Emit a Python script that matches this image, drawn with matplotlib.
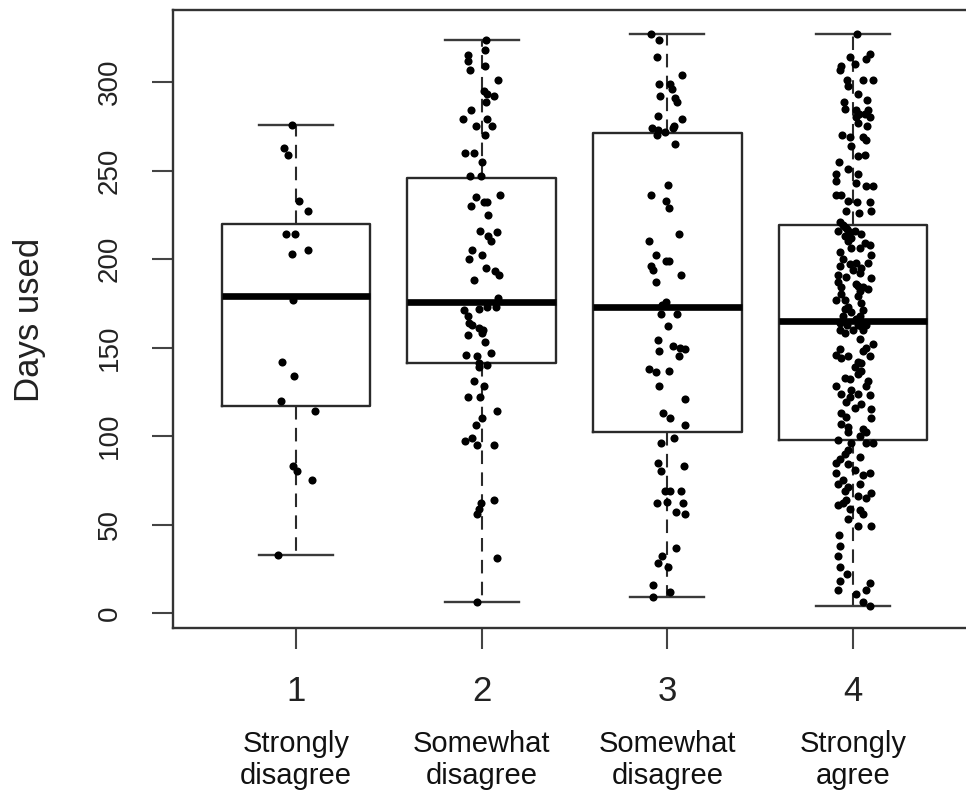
import numpy as np
import matplotlib
matplotlib.use("Agg")
import matplotlib.pyplot as plt
from matplotlib.transforms import blended_transform_factory

plt.rcParams["font.family"] = ["Liberation Sans", "DejaVu Sans"]

# ---- data ----
positions = [1, 2, 3, 4]
tick_labels = ["1", "2", "3", "4"]
category_labels = ["Strongly\ndisagree", "Somewhat\ndisagree", "Somewhat\ndisagree", "Strongly\nagree"]

# box summary per group: lower whisker, Q1, median, Q3, upper whisker
whis_lo = [33, 6, 9, 4]
q1 = [117, 141, 102, 98]
median = [179, 176, 173, 165]
q3 = [220, 246, 271, 219]
whis_hi = [276, 324, 327, 327]

# jittered points: value (days used) and horizontal jitter (category units)
g1_days = [276, 263, 259, 233, 227, 214, 214, 205, 203, 177, 142, 134, 120, 114, 83, 80, 75, 33]
g1_jitter = [-0.023, -0.063, -0.041, 0.015, 0.066, -0.054, -0.005, 0.063, -0.022, -0.016,
             -0.075, -0.011, -0.079, 0.102, -0.016, 0.004, 0.088, -0.099]

g2_days = [324, 318, 315, 312, 307, 309, 301, 295, 293, 292, 289, 284, 279, 279, 275, 275, 270,
           260, 260, 255, 247, 247, 236, 235, 232, 232, 230, 225, 216, 215, 213, 210, 205, 202,
           200, 195, 193, 191, 188, 178, 173, 173, 172, 171, 168, 164, 163, 161, 160, 157, 158,
           153, 146, 145, 147, 141, 140, 139, 131, 128, 122, 122, 114, 110, 106, 99, 97, 95, 95,
           64, 62, 59, 56, 31, 6]
g2_jitter = [0.024, 0.020, -0.074, -0.071, -0.062, 0.019, 0.090, 0.010, 0.031, 0.064, 0.024,
             -0.058, -0.101, 0.031, -0.031, 0.055, 0.019, -0.089, -0.044, 0.003, -0.062, -0.003,
             0.100, -0.031, 0.010, 0.031, -0.057, 0.033, -0.008, 0.082, 0.033, 0.051, -0.050,
             0.001, -0.066, 0.024, 0.073, 0.094, -0.039, 0.090, 0.028, 0.076, -0.017, -0.093,
             -0.076, -0.066, -0.053, -0.017, 0.006, -0.071, 0.001, 0.019, -0.085, -0.023, 0.051,
             -0.013, 0.028, -0.013, -0.044, 0.010, -0.071, -0.008, 0.082, 0.001, -0.031, -0.050,
             -0.089, -0.023, 0.067, 0.069, -0.003, -0.017, -0.026, 0.085, -0.023]

g3_days = [327, 324, 314, 304, 299, 299, 296, 292, 291, 289, 281, 279, 275, 274, 273, 272, 270,
           274, 265, 242, 236, 233, 229, 214, 210, 202, 199, 199, 196, 194, 191, 187, 176, 174,
           169, 169, 162, 154, 151, 150, 149, 148, 145, 138, 136, 137, 128, 121, 113, 110, 106,
           99, 96, 85, 83, 80, 69, 69, 69, 62, 63, 62, 57, 56, 37, 32, 28, 26, 16, 12, 9]
g3_jitter = [-0.088, -0.043, -0.054, 0.079, -0.043, 0.015, 0.027, -0.039, 0.043, 0.054, -0.048,
             0.081, 0.038, -0.085, -0.048, -0.012, -0.054, 0.032, 0.041, 0.004, -0.088, -0.009,
             0.009, 0.061, -0.097, -0.061, -0.009, 0.009, -0.088, -0.075, 0.074, -0.063, -0.009,
             -0.031, -0.034, 0.050, 0.005, -0.052, 0.032, 0.068, 0.095, -0.043, 0.065, -0.099,
             -0.063, 0.009, -0.043, 0.095, -0.025, 0.015, 0.093, 0.036, -0.034, -0.052, 0.088,
             -0.036, -0.012, 0.015, 0.074, -0.054, 0.000, 0.082, 0.047, 0.097, 0.047, -0.031,
             -0.052, 0.005, -0.079, 0.015, -0.075]

g4_days = [327, 316, 313, 314, 310, 309, 307, 301, 301, 301, 298, 293, 290, 289, 285, 284, 284,
           282, 282, 280, 280, 277, 275, 270, 269, 269, 267, 264, 258, 259, 255, 251, 248, 248,
           244, 243, 241, 241, 236, 236, 233, 232, 232, 227, 226, 227, 221, 219, 217, 216, 215,
           213, 212, 204, 206, 208, 202, 198, 196, 197, 198, 194, 191, 192, 189, 187, 186, 184,
           184, 183, 182, 179, 177, 177, 173, 171, 170, 168, 168, 164, 163, 163, 163, 160, 160,
           160, 152, 150, 149, 148, 144, 145, 145, 142, 139, 137, 135, 132, 131, 128, 128, 124,
           122, 124, 123, 119, 116, 113, 115, 110, 107, 105, 104, 102, 102, 98, 96, 96, 96, 90,
           87, 85, 84, 81, 79, 78, 79, 73, 73, 69, 68, 65, 64, 61, 59, 58, 56, 53, 49, 49, 44,
           38, 32, 26, 22, 18, 17, 13, 11, 13, 6, 4,
           # extra points in the densest band
           218, 216, 214, 210, 209, 206, 200, 195, 190, 185, 180, 175, 172, 166, 162, 158, 155,
           146, 141, 133, 126, 118, 111, 100, 92, 88, 75, 71, 66, 62]
g4_jitter = [0.022, 0.090, 0.072, -0.015, 0.012, -0.066, -0.072, -0.032, 0.054, 0.108, -0.027,
             0.027, 0.077, -0.050, -0.041, 0.015, 0.081, 0.032, 0.063, 0.018, 0.090, 0.027, 0.077,
             -0.058, -0.015, 0.054, 0.068, -0.009, 0.027, 0.063, -0.077, -0.027, -0.090, 0.027,
             -0.090, 0.018, 0.072, 0.108, -0.090, -0.063, -0.027, 0.022, 0.090, -0.039, 0.032,
             0.095, -0.072, -0.054, -0.032, -0.081, -0.018, -0.045, -0.009, -0.072, -0.009, 0.090,
             0.099, 0.081, -0.072, -0.018, 0.018, 0.000, -0.081, 0.036, 0.099, -0.081, 0.018,
             -0.063, 0.054, 0.081, 0.036, 0.027, -0.090, -0.045, -0.027, 0.054, -0.009, -0.054,
             0.036, -0.072, -0.032, 0.027, 0.072, -0.072, 0.000, 0.054, 0.108, 0.072, -0.072,
             0.054, -0.063, -0.027, 0.090, 0.027, 0.009, 0.045, 0.027, -0.018, 0.081, -0.090,
             0.072, -0.063, -0.018, 0.027, 0.090, -0.036, 0.009, -0.063, 0.099, 0.099, -0.063,
             -0.027, 0.054, -0.027, 0.072, -0.081, -0.009, 0.072, 0.108, -0.045, -0.072, -0.090,
             -0.027, 0.009, 0.090, 0.054, -0.090, -0.081, 0.036, -0.045, 0.099, 0.072, -0.036,
             -0.081, -0.018, 0.036, 0.054, -0.027, 0.027, 0.099, -0.075, -0.072, -0.081, -0.072,
             -0.032, -0.072, 0.090, -0.081, 0.018, 0.072, 0.054, 0.090,
             -0.045, 0.009, 0.045, -0.027, 0.063, 0.036, -0.054, 0.045, -0.036, 0.027, -0.063,
             0.045, -0.045, 0.018, 0.045, -0.045, 0.036, -0.090, 0.045, -0.045, -0.009, 0.045,
             -0.036, 0.036, -0.027, 0.036, -0.054, -0.027, 0.027, -0.054]

groups_days = [g1_days, g2_days, g3_days, g4_days]
groups_jitter = [g1_jitter, g2_jitter, g3_jitter, g4_jitter]

# ---- figure ----
fig = plt.figure(figsize=(9.66, 7.94), dpi=100)
ax = fig.add_axes([173 / 966, 1 - 628 / 794, (966 - 173) / 966, (628 - 10) / 794])

stats = [dict(med=m, q1=a, q3=b, whislo=lo, whishi=hi, fliers=[])
         for lo, a, m, b, hi in zip(whis_lo, q1, median, q3, whis_hi)]
ax.bxp(stats, positions=positions, widths=0.8, showfliers=False,
       boxprops=dict(color="#2a2a2a", linewidth=1.7),
       medianprops=dict(color="black", linewidth=4.8, solid_capstyle="butt"),
       whiskerprops=dict(color="#2a2a2a", linewidth=1.5, linestyle=(0, (6.5, 4))),
       capprops=dict(color="#3a3a3a", linewidth=1.7))

for pos, days, jit in zip(positions, groups_days, groups_jitter):
    ax.scatter(pos + np.array(jit), days, s=34, color="black", linewidths=0, zorder=3)

ax.set_xlim(0.3375, 4.6086)
ax.set_ylim(-8.47, 340.7)

for side in ["left", "bottom", "top"]:
    ax.spines[side].set_color("#333333")
    ax.spines[side].set_linewidth(1.7)
ax.spines["right"].set_visible(False)

ax.set_xticks(positions)
ax.set_xticklabels(tick_labels, fontsize=25, color="#222222")
ax.set_yticks(np.arange(0, 301, 50))
ax.set_yticklabels([str(v) for v in range(0, 301, 50)], fontsize=20, rotation=90,
                   va="center", color="#222222")
ax.tick_params(axis="x", length=15, width=1.5, color="#444444", pad=19)
ax.tick_params(axis="y", length=15, width=1.5, color="#444444", pad=21)

fig.text(30 / 966, 1 - 320 / 794, "Days used", rotation=90, fontsize=25,
         ha="center", va="center", color="#222222")

trans = blended_transform_factory(ax.transData, fig.transFigure)
for pos, lab in zip(positions, category_labels):
    ax.text(pos, 1 - 760 / 794, lab, transform=trans, fontsize=21, ha="center",
            va="center", linespacing=1.15, color="#111111")

fig.savefig("out.png", dpi=100)
